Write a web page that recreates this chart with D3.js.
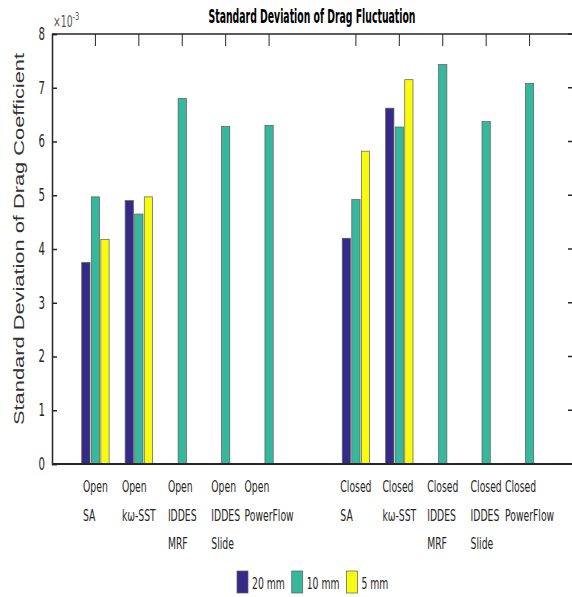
<!DOCTYPE html>
<html>
<head>
<meta charset="utf-8">
<script src="https://cdn.jsdelivr.net/npm/d3@7"></script>
<style>
  body { margin: 0; background: #fff; }
  text { fill: #262626; }
</style>
</head>
<body>
<script>
// category labels (one array of lines per group, null = blank slot)
var categories = [
  ["Open", "SA"],
  ["Open", "kω-SST"],
  ["Open", "IDDES", "MRF"],
  ["Open", "IDDES", "Slide"],
  ["Open", "PowerFlow"],
  null,
  ["Closed", "SA"],
  ["Closed", "kω-SST"],
  ["Closed", "IDDES", "MRF"],
  ["Closed", "IDDES", "Slide"],
  ["Closed", "PowerFlow"]
];

// values in units of 1e-3
var mesh20 = [3.75, 4.90, null, null, null, null, 4.20, 6.62, null, null, null];
var mesh10 = [4.97, 4.65, 6.80, 6.28, 6.30, null, 4.92, 6.27, 7.43, 6.37, 7.08];
var mesh5 = [4.18, 4.97, null, null, null, null, 5.82, 7.15, null, null, null];

var seriesNames = ["20 mm", "10 mm", "5 mm"];
var seriesColors = ["#352a87", "#37b89d", "#f9fb0e"];
var yTicks = [0, 1, 2, 3, 4, 5, 6, 7, 8];

var W = 572, H = 597;
var mL = 52, mR = 573, mT = 34, mB = 464;
var narrow = "'Liberation Sans Narrow', 'DejaVu Sans Condensed', 'Arial Narrow', sans-serif";
var fs = 10.3;
var stretch = 1.5;

var svg = d3.select("body").append("svg")
  .attr("width", W)
  .attr("height", H);

var x = d3.scaleLinear().domain([0, categories.length + 1]).range([mL, mR]);
var y = d3.scaleLinear().domain([0, 8]).range([mB, mT]);

var allSeries = [mesh20, mesh10, mesh5];
var offsets = [-0.22, 0, 0.22];
var barW = x(0.19) - x(0);

// bottom ticks (only at labelled categories), drawn below bars
categories.forEach(function (c, i) {
  if (!c) return;
  svg.append("line")
    .attr("x1", x(i + 1)).attr("x2", x(i + 1))
    .attr("y1", mB).attr("y2", mB - 12)
    .attr("stroke", "#262626");
});

// bars
allSeries.forEach(function (vals, s) {
  svg.append("g").selectAll("rect")
    .data(vals.map(function (v, i) { return { v: v, i: i }; }).filter(function (d) { return d.v != null; }))
    .enter()
    .append("rect")
    .attr("x", function (d) { return x(d.i + 1 + offsets[s]) - barW / 2; })
    .attr("y", function (d) { return y(d.v); })
    .attr("width", barW)
    .attr("height", function (d) { return y(0) - y(d.v); })
    .attr("fill", seriesColors[s])
    .attr("stroke", "#5a5a5a")
    .attr("stroke-width", 0.7);
});

// box: top + right lines with ticks
svg.append("line")
  .attr("x1", mL).attr("x2", mR)
  .attr("y1", mT).attr("y2", mT)
  .attr("stroke", "#262626").attr("stroke-width", 1.5);
svg.append("line")
  .attr("x1", mR).attr("x2", mR)
  .attr("y1", mT).attr("y2", mB)
  .attr("stroke", "#262626").attr("stroke-width", 1.5);
categories.forEach(function (c, i) {
  if (!c) return;
  svg.append("line")
    .attr("x1", x(i + 1)).attr("x2", x(i + 1))
    .attr("y1", mT).attr("y2", mT + 12)
    .attr("stroke", "#262626");
});
yTicks.forEach(function (t) {
  svg.append("line")
    .attr("x1", mR).attr("x2", mR - 5)
    .attr("y1", y(t)).attr("y2", y(t))
    .attr("stroke", "#262626").attr("stroke-width", 1.5);
});

// left axis
var yAxis = d3.axisLeft(y).tickValues(yTicks).tickSize(-5).tickPadding(7);
var gy = svg.append("g")
  .attr("transform", "translate(" + mL + ",0)")
  .call(yAxis);
gy.select(".domain").attr("stroke", "#262626").attr("stroke-width", 1.5);
gy.selectAll(".tick line").attr("stroke", "#262626").attr("stroke-width", 1.5);
gy.selectAll(".tick text")
  .attr("font-family", narrow)
  .attr("font-size", fs + 1)
  .attr("fill", "#262626")
  .attr("transform", "scale(1," + stretch + ")");

// bottom axis line
svg.append("line")
  .attr("x1", mL).attr("x2", mR)
  .attr("y1", mB).attr("y2", mB)
  .attr("stroke", "#262626").attr("stroke-width", 2);

// category labels: block centred on tick, lines left aligned
categories.forEach(function (c, i) {
  if (!c) return;
  var g = svg.append("g");
  var texts = c.map(function (line, k) {
    return g.append("text")
      .attr("font-family", narrow)
      .attr("font-size", fs)
      .attr("transform", "translate(0," + (492 + k * 28.5) + ") scale(1," + stretch + ")")
      .text(line);
  });
  var wmax = d3.max(texts, function (t) { return t.node().getComputedTextLength(); });
  g.attr("transform", "translate(" + (x(i + 1) - wmax / 2) + ",0)");
});

// exponent label
var ex = svg.append("text")
  .attr("font-family", narrow)
  .attr("font-size", fs)
  .attr("transform", "translate(53,27) scale(1," + stretch + ")")
  .style("fill", "#555");
ex.append("tspan").text("×10");
ex.append("tspan").attr("font-size", 7.5).attr("dy", -5).text("-3");

// title
svg.append("text")
  .attr("font-family", narrow)
  .attr("font-size", 12.5)
  .attr("font-weight", "bold")
  .attr("text-anchor", "middle")
  .attr("transform", "translate(312,23) scale(1," + stretch + ")")
  .attr("textLength", 207)
  .attr("lengthAdjust", "spacingAndGlyphs")
  .style("fill", "#000")
  .text("Standard Deviation of Drag Fluctuation");

// y label
svg.append("text")
  .attr("font-family", "'Liberation Sans', Arial, sans-serif")
  .attr("font-size", 15)
  .attr("text-anchor", "middle")
  .attr("transform", "translate(24,239) rotate(-90)")
  .attr("textLength", 372)
  .attr("lengthAdjust", "spacingAndGlyphs")
  .style("fill", "#333")
  .text("Standard Deviation of Drag Coefficient");

// legend
var lx = 237;
var leg = svg.append("g");
seriesNames.forEach(function (name, s) {
  leg.append("rect")
    .attr("x", lx).attr("y", 571)
    .attr("width", 11).attr("height", 22)
    .attr("fill", seriesColors[s])
    .attr("stroke", "#5a5a5a").attr("stroke-width", 0.7);
  var t = leg.append("text")
    .attr("font-family", narrow)
    .attr("font-size", fs)
    .attr("transform", "translate(" + (lx + 15) + ",589) scale(1," + stretch + ")")
    .text(name);
  lx += 15 + t.node().getComputedTextLength() + 7;
});
</script>
</body>
</html>
